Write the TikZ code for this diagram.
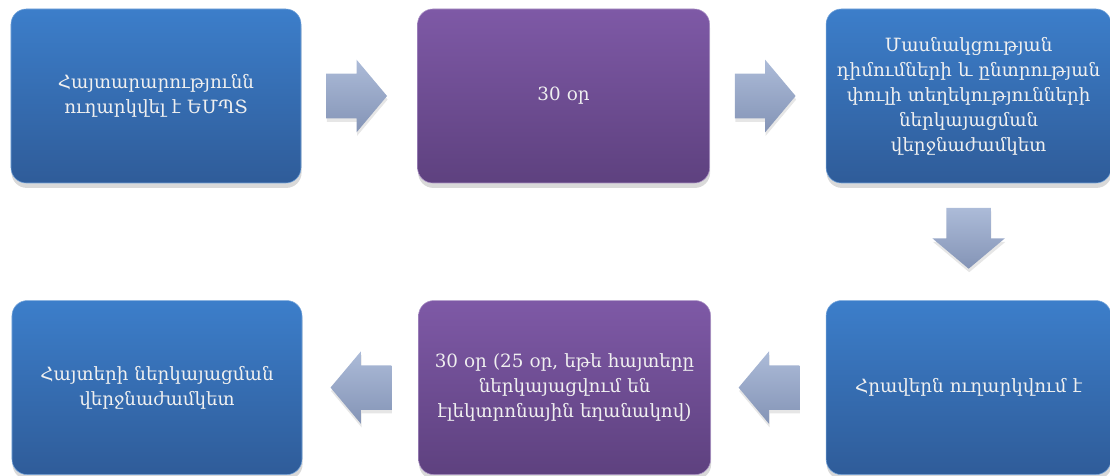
\documentclass[tikz,border=0pt]{standalone}
\usepackage{fontspec}
\setmainfont{DejaVu Serif}
\usetikzlibrary{shapes.arrows, shadows, positioning, calc}

\definecolor{boxblue}{RGB}{60,126,202}
\definecolor{boxbluedark}{RGB}{47,92,153}
\definecolor{boxpurple}{RGB}{126,89,166}
\definecolor{boxpurpledark}{RGB}{94,65,127}
\definecolor{arrowlight}{RGB}{172,187,216}
\definecolor{arrowdark}{RGB}{132,148,182}

\newcommand{\shaftv}{\rule{0pt}{1.1cm}}
\newcommand{\shafth}{\rule{1.1cm}{0pt}}

\begin{document}
\begin{tikzpicture}[
    node distance=2.925cm and 2.9cm,
    block/.style={
        rectangle, draw=boxblue!70!white,
        top color=boxblue, bottom color=boxbluedark,
        text width=6.8cm,
        text centered,
        rounded corners=0.38cm,
        minimum width=7.25cm,
        minimum height=4.35cm,
        font=\fontsize{13}{17.8}\selectfont,
        text=white!94!black,
        drop shadow={shadow xshift=0.4pt, shadow yshift=-3.5pt, opacity=0.3}
    },
    period/.style={
        block, minimum width=7.3cm,
        draw=boxpurple!65!white,
        top color=boxpurple, bottom color=boxpurpledark
    },
    bigarrow/.style={
        single arrow, draw=none,
        top color=arrowlight, bottom color=arrowdark,
        minimum height=1.52cm,
        single arrow head extend=0.35cm,
        single arrow tip angle=100,
        inner sep=0pt,
        drop shadow={shadow xshift=0.4pt, shadow yshift=-2.5pt, opacity=0.2}
    }
]
\useasboundingbox (0,0) rectangle (27.75,-11.9);

% Top row
\node [block] (notice) at (3.9,-2.4) {Հայտարարությունն\\ուղարկվել է ԵՄՊՏ};
\node [period, right=of notice] (first) {30 օր};
\node [block, minimum width=7.125cm, right=of first] (request)
    {Մասնակցության\\դիմումների և ընտրության\\փուլի տեղեկությունների\\ներկայացման\\վերջնաժամկետ};

% Bottom row
\node [block, minimum width=7.125cm, below=of request] (invite) {Հրավերն ուղարկվում է};
\node [period, left=2.875cm of invite] (second)
    {30 օր (25 օր, եթե հայտերը\\ներկայացվում են\\էլեկտրոնային եղանակով)};
\node [block, left=of second] (tenders) {Հայտերի ներկայացման\\վերջնաժամկետ};

% Arrows between steps
\node [bigarrow, xshift=-0.3cm] (a1) at ($(notice.east)!0.5!(first.west)$) {\shaftv};
\node [bigarrow, xshift=-0.3cm] (a2) at ($(first.east)!0.5!(request.west)$) {\shaftv};
\node [bigarrow, yshift=0.32cm, shape border rotate=270] (a3)
    at ($(request.south)!0.5!(invite.north)$) {\shafth};
\node [bigarrow, xshift=0.25cm, shape border rotate=180] (a4)
    at ($(invite.west)!0.5!(second.east)$) {\shaftv};
\node [bigarrow, xshift=0.25cm, shape border rotate=180] (a5)
    at ($(second.west)!0.5!(tenders.east)$) {\shaftv};

\end{tikzpicture}
\end{document}
